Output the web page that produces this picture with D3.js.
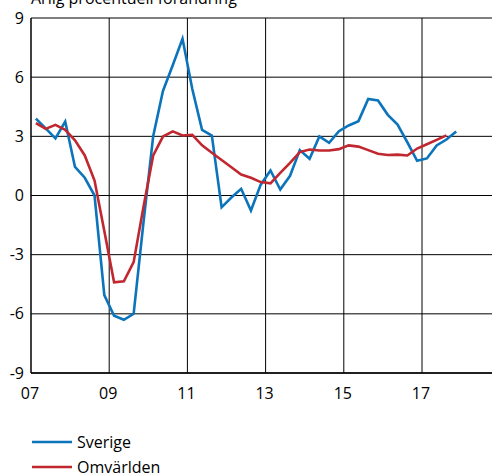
<!DOCTYPE html>
<html>
<head>
<meta charset="utf-8">
<script src="https://cdn.jsdelivr.net/npm/d3@7"></script>
<style>
  body { margin: 0; background: #fff; }
  text { font-family: "Open Sans", sans-serif; fill: #000; }
</style>
</head>
<body>
<div id="chart"></div>
<script>
// quarterly data, 2007Q1 onwards
const startYear = 2007;
const sverige = [3.9, 3.4, 2.9, 3.75, 1.45, 0.9, 0.0, -5.05, -6.1, -6.3, -6.0, -1.4,
  3.0, 5.3, 6.6, 7.95, 5.4, 3.33, 3.04, -0.6, -0.1, 0.34, -0.76, 0.55,
  1.27, 0.3, 1.0, 2.3, 1.86, 2.99, 2.67, 3.26, 3.55, 3.77, 4.9, 4.82,
  4.09, 3.6, 2.7, 1.76, 1.88, 2.54, 2.84, 3.25];
const omvarlden = [3.67, 3.38, 3.58, 3.33, 2.8, 2.03, 0.76, -1.8, -4.4, -4.35, -3.38, -0.6,
  2.03, 2.99, 3.25, 3.04, 3.08, 2.54, 2.17, 1.8, 1.43, 1.06, 0.9, 0.68,
  0.62, 1.15, 1.65, 2.2, 2.33, 2.28, 2.28, 2.35, 2.54, 2.48, 2.3, 2.12,
  2.05, 2.07, 2.03, 2.38, 2.6, 2.82, 3.05];
const yTicks = [-9, -6, -3, 0, 3, 6, 9];
const xTicks = [2007, 2009, 2011, 2013, 2015, 2017];
const xTickLabels = ["07", "09", "11", "13", "15", "17"];
const seriesNames = ["Sverige", "Omvärlden"];
const colors = ["#0b74bb", "#c1272f"];
const title = "Årlig procentuell förändring";

const width = 492, height = 473;
const margin = { top: 18, left: 31, bottom: 100 };

const x = d3.scaleLinear().domain([2007, 2017]).range([31, 422]);
const y = d3.scaleLinear().domain([-9, 9]).range([height - margin.bottom, margin.top]);

const svg = d3.select("#chart").append("svg").attr("width", width).attr("height", height);

svg.append("text").attr("x", 31).attr("y", 4).style("font-size", "16px").text(title);

// horizontal grid
svg.append("g").selectAll("line").data(yTicks).enter().append("line")
  .attr("x1", margin.left).attr("x2", width)
  .attr("y1", (d) => y(d)).attr("y2", (d) => y(d))
  .attr("stroke", "#000").attr("stroke-width", 1);

// vertical grid
svg.append("g").selectAll("line").data(xTicks.slice(1)).enter().append("line")
  .attr("x1", (d) => x(d)).attr("x2", (d) => x(d))
  .attr("y1", y(9)).attr("y2", y(-9))
  .attr("stroke", "#000").attr("stroke-width", 1);

// axis lines
svg.append("line").attr("x1", x(2007)).attr("x2", x(2007)).attr("y1", y(9)).attr("y2", y(-9))
  .attr("stroke", "#000").attr("stroke-width", 1.5);
svg.append("line").attr("x1", x(2007)).attr("x2", width).attr("y1", y(-9)).attr("y2", y(-9))
  .attr("stroke", "#000").attr("stroke-width", 1.5);

// y labels
svg.append("g").selectAll("text").data(yTicks).enter().append("text")
  .attr("x", 24).attr("y", (d) => y(d)).attr("dy", "0.35em")
  .attr("text-anchor", "end").style("font-size", "16px").text((d) => d);

// x labels
svg.append("g").selectAll("text").data(xTicks).enter().append("text")
  .attr("x", (d) => x(d) - 1).attr("y", 399)
  .attr("text-anchor", "middle").style("font-size", "16px").text((d, i) => xTickLabels[i]);

const line = d3.line().x((d, i) => x(startYear + (i + 0.5) / 4)).y((d) => y(d));

[sverige, omvarlden].forEach((s, k) => {
  svg.append("path").datum(s).attr("d", line)
    .attr("fill", "none").attr("stroke", colors[k]).attr("stroke-width", 2.6)
    .attr("stroke-linejoin", "miter");
});

// legend
const legend = svg.append("g").attr("transform", "translate(32, 442)");
seriesNames.forEach((name, i) => {
  const row = legend.append("g").attr("transform", `translate(0,${i * 25})`);
  row.append("line").attr("x1", 0).attr("x2", 40).attr("y1", 0).attr("y2", 0)
    .attr("stroke", colors[i]).attr("stroke-width", 2.6);
  row.append("text").attr("x", 45).attr("y", 0).attr("dy", "0.35em")
    .style("font-size", "16px").text(name);
});
</script>
</body>
</html>
